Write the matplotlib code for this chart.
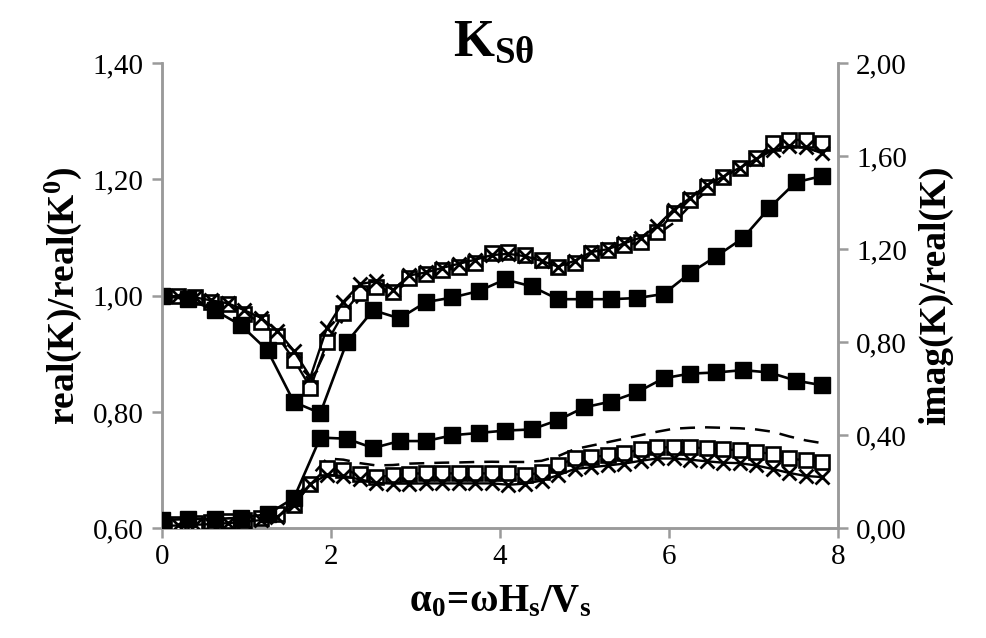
import matplotlib
matplotlib.use("Agg")
import matplotlib.pyplot as plt
from matplotlib.ticker import FuncFormatter
import numpy as np

# coarse grid (filled squares) and fine grid (open squares, crosses, dashed)
x_coarse = np.linspace(0, 7.8125, 26)
x_fine = np.linspace(0, 7.8125, 41)

# real(K)/real(K0), left axis
real_filled = [1.000, 0.994, 0.975, 0.949, 0.906, 0.817, 0.798, 0.920, 0.975, 0.961,
               0.989, 0.997, 1.008, 1.028, 1.016, 0.994, 0.994, 0.994, 0.996, 1.003,
               1.039, 1.068, 1.099, 1.151, 1.195, 1.206]
real_open = [1.000, 0.999, 0.997, 0.990, 0.985, 0.968, 0.955, 0.930, 0.890, 0.842,
             0.920, 0.970, 1.005, 1.015, 1.007, 1.030, 1.037, 1.045, 1.050, 1.057,
             1.073, 1.075, 1.070, 1.061, 1.049, 1.057, 1.073, 1.078, 1.087, 1.092,
             1.109, 1.142, 1.164, 1.187, 1.204, 1.219, 1.237, 1.262, 1.268, 1.268,
             1.262]
real_cross = [1.000, 0.999, 0.997, 0.992, 0.987, 0.975, 0.962, 0.940, 0.905, 0.860,
              0.945, 0.990, 1.020, 1.025, 1.010, 1.035, 1.040, 1.048, 1.055, 1.062,
              1.070, 1.072, 1.068, 1.060, 1.050, 1.060, 1.075, 1.080, 1.090, 1.100,
              1.120, 1.148, 1.168, 1.190, 1.205, 1.220, 1.235, 1.250, 1.258, 1.255,
              1.245]
real_dash = [1.000, 0.999, 0.996, 0.990, 0.984, 0.970, 0.955, 0.930, 0.895, 0.850,
             0.910, 0.960, 0.995, 1.010, 1.005, 1.025, 1.035, 1.042, 1.050, 1.057,
             1.065, 1.070, 1.068, 1.060, 1.050, 1.055, 1.068, 1.074, 1.082, 1.090,
             1.105, 1.125, 1.155, 1.180, 1.200, 1.215, 1.235, 1.255, 1.265, 1.265,
             1.258]

# imag(K)/real(K), right axis
imag_filled = [0.035, 0.040, 0.040, 0.045, 0.060, 0.130, 0.390, 0.385, 0.345, 0.375,
               0.375, 0.400, 0.410, 0.420, 0.425, 0.465, 0.520, 0.545, 0.585, 0.645,
               0.665, 0.670, 0.680, 0.670, 0.635, 0.615]
imag_open = [0.020, 0.020, 0.022, 0.025, 0.030, 0.035, 0.045, 0.060, 0.100, 0.190,
             0.260, 0.250, 0.232, 0.220, 0.228, 0.235, 0.236, 0.236, 0.236, 0.236,
             0.236, 0.236, 0.228, 0.240, 0.270, 0.300, 0.305, 0.314, 0.322, 0.340,
             0.348, 0.348, 0.348, 0.344, 0.340, 0.335, 0.330, 0.318, 0.300, 0.292,
             0.284]
imag_cross = [0.010, 0.012, 0.015, 0.018, 0.022, 0.028, 0.035, 0.050, 0.100, 0.190,
              0.230, 0.225, 0.210, 0.195, 0.192, 0.192, 0.193, 0.193, 0.193, 0.193,
              0.193, 0.187, 0.192, 0.205, 0.228, 0.255, 0.262, 0.270, 0.278, 0.290,
              0.300, 0.300, 0.295, 0.288, 0.282, 0.280, 0.270, 0.255, 0.238, 0.225,
              0.220]
imag_dash = [0.015, 0.016, 0.018, 0.022, 0.026, 0.032, 0.042, 0.058, 0.110, 0.220,
             0.300, 0.295, 0.280, 0.270, 0.272, 0.278, 0.280, 0.282, 0.283, 0.285,
             0.286, 0.285, 0.285, 0.290, 0.310, 0.340, 0.355, 0.370, 0.385, 0.400,
             0.415, 0.428, 0.432, 0.434, 0.432, 0.430, 0.425, 0.415, 0.395, 0.378,
             0.366]

plt.rcParams['font.family'] = ['Liberation Serif', 'DejaVu Serif']
plt.rcParams['mathtext.fontset'] = 'custom'
plt.rcParams['mathtext.rm'] = 'Liberation Serif'
plt.rcParams['mathtext.it'] = 'Liberation Serif:italic'
plt.rcParams['mathtext.bf'] = 'Liberation Serif:bold'

GRAY = '#9a9a9a'

fig = plt.figure(figsize=(9.87, 6.38), dpi=100)
ax = fig.add_axes([0.164, 0.172, 0.685, 0.729])
ax2 = ax.twinx()


def draw_group(axis, yf, yo, yx, yd):
    axis.plot(x_coarse, yf, color='k', lw=1.9, marker='s', ms=12,
              mfc='k', mec='k', zorder=5)
    axis.plot(x_fine, yo, color='k', lw=1.7, marker='s', ms=10.5,
              mfc='white', mec='k', mew=1.9, zorder=4)
    axis.plot(x_fine, yx, color='k', lw=1.7, marker='x', ms=10.5,
              mec='k', mew=2.0, zorder=4)
    axis.plot(x_fine, yd, color='k', lw=1.8, ls=(0, (6, 4)), zorder=3)


draw_group(ax, real_filled, real_open, real_cross, real_dash)
draw_group(ax2, imag_filled, imag_open, imag_cross, imag_dash)

ax.set_xlim(0, 8)
ax.set_ylim(0.6, 1.4)
ax2.set_ylim(0, 2.0)
ax.set_xticks([0, 2, 4, 6, 8])
ax.set_yticks([0.6, 0.8, 1.0, 1.2, 1.4])
ax2.set_yticks([0, 0.4, 0.8, 1.2, 1.6, 2.0])

comma = FuncFormatter(lambda v, p: f"{v:.2f}".replace('.', ','))
ax.yaxis.set_major_formatter(comma)
ax2.yaxis.set_major_formatter(comma)

for a in (ax, ax2):
    a.spines['top'].set_visible(False)
    for s in ('left', 'right', 'bottom'):
        a.spines[s].set_color(GRAY)
        a.spines[s].set_linewidth(1.8)
    a.tick_params(axis='both', direction='out', length=7, width=1.8,
                  color=GRAY, labelsize=21, pad=6)
ax.tick_params(axis='x', pad=4)

ax.set_ylabel(r'$\mathbf{real(K)/real(K^{0})}$', fontsize=27, labelpad=6)
ax2.set_ylabel('imag(K)/real(K)', fontsize=27, fontweight='bold',
               rotation=90, labelpad=8)
ax.set_xlabel(r'$\mathbf{\alpha_{0}\!=\!\omega H_{s}/V_{s}}$', fontsize=28, labelpad=10)
fig.text(0.5, 0.913, r'$\mathbf{K_{S\theta}}$', fontsize=38, ha='center', va='baseline')

fig.savefig('out.png', dpi=100)
